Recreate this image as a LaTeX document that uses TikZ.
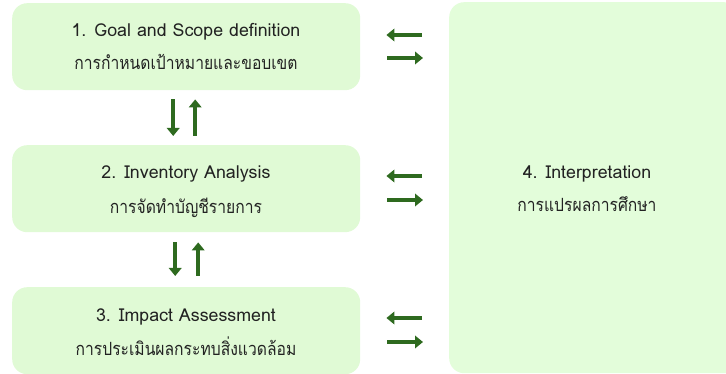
\documentclass[tikz,border=0pt]{standalone}
\usepackage{fontspec}
\usepackage{graphicx}
\setmainfont[Script=Thai]{Loma}
\usetikzlibrary{arrows.meta}
\definecolor{boxfill}{HTML}{E0FAD5}
\definecolor{bigfill}{HTML}{E3FDDA}
\definecolor{arrowgreen}{HTML}{2E6A1F}
\definecolor{ink}{HTML}{222222}
% Thai captions: tall, slightly condensed setting
\newcommand{\thailine}[1]{\scalebox{0.86}[1]{\fontsize{18.2}{20}\selectfont #1}}
\tikzset{
  stage/.style={fill=boxfill, rounded corners=15, inner sep=0, minimum width=348, minimum height=87},
  result/.style={fill=bigfill, rounded corners=15, inner sep=0, minimum width=290, minimum height=371},
  entext/.style={text=ink, font=\fontsize{17.8}{20}\selectfont, anchor=base, inner sep=0},
  thtext/.style={text=ink, anchor=base, inner sep=0},
  flow/.style={draw=arrowgreen, line width=3.8, -{Triangle[length=8, width=12.5]}}
}
\begin{document}
\begin{tikzpicture}[x=1pt, y=-1pt]
\useasboundingbox (0,0) rectangle (726,374);
% stages on the left
\node[stage, anchor=north west] (s1) at (12,3) {};
\node[stage, anchor=north west] (s2) at (12,145) {};
\node[stage, anchor=north west] (s3) at (12,287) {};
% interpretation panel on the right
\node[result, anchor=north west] (s4) at (449,2) {};
% texts
\node[entext] (t1a) at (186,37) {1. Goal and Scope definition};
\node[thtext] (t1b) at (186,70) {\thailine{การกำหนดเป้าหมายและขอบเขต}};
\node[entext] (t2a) at (186,179) {2. Inventory Analysis};
\node[thtext] (t2b) at (186,214) {\thailine{การจัดทำบัญชีรายการ}};
\node[entext] (t3a) at (186,321) {3. Impact Assessment};
\node[thtext] (t3b) at (186,355) {\thailine{การประเมินผลกระทบสิ่งแวดล้อม}};
\node[entext] (t4a) at (587,179) {4. Interpretation};
\node[thtext] (t4b) at (587,212) {\thailine{การแปรผลการศึกษา}};
% arrows between stages and interpretation
\foreach \s/\ya/\yb in {s1/35/58, s2/176/200, s3/318/342}{
  \draw[flow, shorten <=27, shorten >=26] (s4.west |- 0,\ya) -- (\s.east |- 0,\ya);
  \draw[flow, shorten <=27, shorten >=26] (\s.east |- 0,\yb) -- (s4.west |- 0,\yb);
}
% arrows between consecutive stages
\draw[flow, shorten <=9, shorten >=9] ([xshift=-13]s1.south) -- ([xshift=-13]s2.north);
\draw[flow, shorten <=9, shorten >=9] ([xshift=9]s2.north) -- ([xshift=9]s1.south);
\draw[flow, shorten <=10, shorten >=11] ([xshift=-11]s2.south) -- ([xshift=-11]s3.north);
\draw[flow, shorten <=11, shorten >=10] ([xshift=12]s3.north) -- ([xshift=12]s2.south);
\end{tikzpicture}
\end{document}
